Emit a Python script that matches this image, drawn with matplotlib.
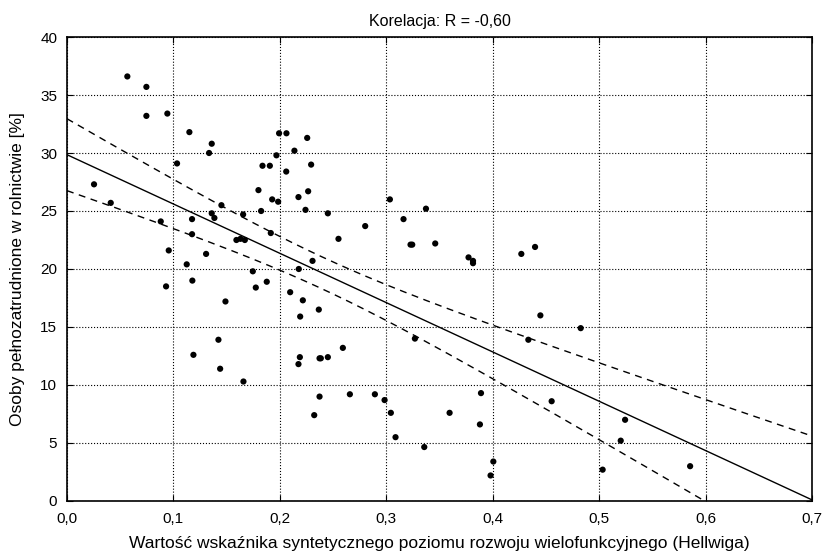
import numpy as np
import matplotlib
matplotlib.use('Agg')
import matplotlib.pyplot as plt
from matplotlib.ticker import FuncFormatter

plt.rcParams['font.family'] = ['Liberation Sans', 'DejaVu Sans']

# wartosc wskaznika Hellwiga
x = [0.0567, 0.0746, 0.0746, 0.0943, 0.115, 0.136, 0.1335, 0.1034, 0.1993, 0.2062,
     0.2257, 0.2137, 0.1968, 0.1837, 0.1906, 0.2294, 0.206, 0.0254, 0.1799, 0.2175,
     0.2266, 0.1928, 0.1984, 0.0411, 0.1824, 0.2241, 0.1451, 0.136, 0.1655, 0.1385,
     0.0881, 0.1175, 0.1175, 0.1915, 0.1592, 0.163, 0.1671, 0.0956, 0.1307, 0.1125,
     0.2178, 0.2307, 0.1746, 0.0931, 0.1178, 0.1774, 0.1877, 0.2097, 0.2216, 0.1489,
     0.2366, 0.2191, 0.1423, 0.1188, 0.2188, 0.2175, 0.2373, 0.1439, 0.1658, 0.2373,
     0.2323, 0.2451, 0.2802, 0.2551, 0.3034, 0.3373, 0.3162, 0.3228, 0.3244, 0.346,
     0.3773, 0.3815, 0.3815, 0.4269, 0.4398, 0.4448, 0.3269, 0.4335, 0.2592, 0.2385,
     0.2451, 0.2658, 0.2893, 0.2984, 0.3043, 0.3087, 0.3357, 0.3595, 0.389, 0.388,
     0.4006, 0.398, 0.4554, 0.4827, 0.5244, 0.5203, 0.5033, 0.5855]
# osoby pelnozatrudnione w rolnictwie [%]
y = [36.6, 35.7, 33.2, 33.4, 31.8, 30.8, 30.0, 29.1, 31.7, 31.7,
     31.3, 30.2, 29.8, 28.9, 28.9, 29.0, 28.4, 27.3, 26.8, 26.2,
     26.7, 26.0, 25.8, 25.7, 25.0, 25.1, 25.5, 24.8, 24.7, 24.4,
     24.1, 24.3, 23.0, 23.1, 22.5, 22.6, 22.5, 21.6, 21.3, 20.4,
     20.0, 20.7, 19.8, 18.5, 19.0, 18.4, 18.9, 18.0, 17.3, 17.2,
     16.5, 15.9, 13.9, 12.6, 12.4, 11.8, 12.3, 11.4, 10.3, 9.0,
     7.4, 24.8, 23.7, 22.6, 26.0, 25.2, 24.3, 22.1, 22.1, 22.2,
     21.0, 20.7, 20.5, 21.3, 21.9, 16.0, 14.0, 13.9, 13.2, 12.3,
     12.4, 9.2, 9.2, 8.7, 7.6, 5.5, 4.65, 7.6, 9.3, 6.6,
     3.4, 2.2, 8.6, 14.9, 7.0, 5.2, 2.7, 3.0]

x = np.array(x)
y = np.array(y)
n = len(x)

# regresja liniowa + 95% przedzial ufnosci
b, a = np.polyfit(x, y, 1)
r = np.corrcoef(x, y)[0, 1]
res = y - (a + b * x)
s = np.sqrt(np.sum(res ** 2) / (n - 2))
sxx = np.sum((x - x.mean()) ** 2)
xs = np.linspace(0, 0.7, 200)
ys = a + b * xs
half = 1.985 * s * np.sqrt(1 / n + (xs - x.mean()) ** 2 / sxx)

fig = plt.figure(figsize=(8.23, 5.54), dpi=100)
ax = fig.add_axes([0.0814, 0.0957, 0.9052, 0.8375])

ax.plot(xs, ys, color='black', lw=1.0)
ax.plot(xs, ys + half, color='black', lw=1.0, ls=(0, (5, 4)))
ax.plot(xs, ys - half, color='black', lw=1.0, ls=(0, (5, 4)))
ax.scatter(x, y, s=20, color='black', zorder=3, edgecolors='none')

ax.set_xlim(0, 0.7)
ax.set_ylim(0, 40)
ax.set_xticks(np.arange(0, 0.71, 0.1))
ax.set_yticks(np.arange(0, 41, 5))
ax.xaxis.set_major_formatter(FuncFormatter(lambda v, p: f'{v:.1f}'.replace('.', ',')))
ax.grid(True, color='black', ls=':', lw=0.8)
ax.tick_params(direction='in', top=True, right=True, labelsize=11, length=4)
ax.tick_params(axis='x', pad=8)
ax.tick_params(axis='y', pad=7)
for sp in ax.spines.values():
    sp.set_linewidth(1.2)

ax.set_title('Korelacja: R = ' + f'{r:.2f}'.replace('.', ','), fontsize=11.5, pad=8)
ax.set_xlabel('Wartość wskaźnika syntetycznego poziomu rozwoju wielofunkcyjnego (Hellwiga)',
              fontsize=12.5, labelpad=7)
ax.set_ylabel('Osoby pełnozatrudnione w rolnictwie [%]', fontsize=12.5, labelpad=11)

fig.savefig('out.png', dpi=100)
